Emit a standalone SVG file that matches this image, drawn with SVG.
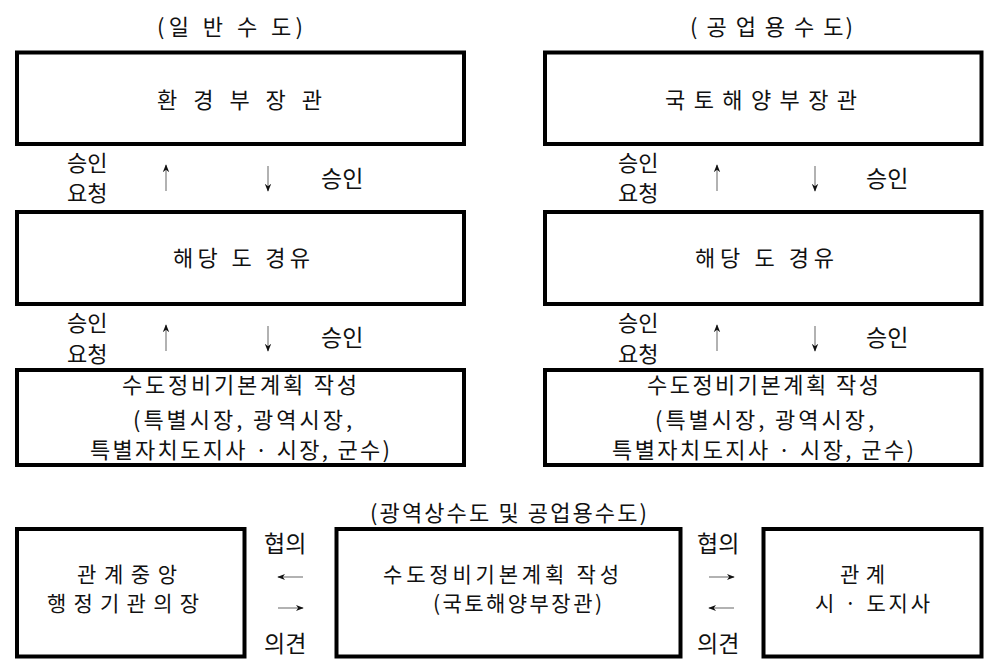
<svg xmlns="http://www.w3.org/2000/svg" width="997" height="670" viewBox="0 0 997 670">
<defs>
<style>
text{font-family:"Noto Sans CJK KR","Noto Sans",sans-serif;font-size:22px;fill:#111;}
.sm{font-size:21px;}
.lg{font-size:23px;}
.box{fill:#fff;stroke:#000;stroke-width:4;}
.ar{stroke:#999;stroke-width:1.5;fill:none;marker-end:url(#ah);}
</style>
<marker id="ah" viewBox="0 0 10 10" refX="9" refY="5" markerWidth="8" markerHeight="8" markerUnits="userSpaceOnUse" orient="auto">
<path d="M0,1 L10,5 L0,9 L3,5 Z" fill="#111"/>
</marker>
</defs>
<rect width="997" height="670" fill="#fff"/>

<g id="titles">
<text x="157" y="35" textLength="146" lengthAdjust="spacing">(일 반 수 도)</text>
<text x="690" y="35" textLength="163" lengthAdjust="spacing">( 공 업 용 수 도)</text>
<text x="370" y="521" textLength="277" lengthAdjust="spacing">(광역상수도 및 공업용수도)</text>
</g>

<g id="n-left-minister">
<rect class="box" x="17" y="52.5" width="447" height="91.5"/>
<text x="157" y="108" textLength="165" lengthAdjust="spacing">환 경 부 장 관</text>
</g>
<g id="n-left-province">
<rect class="box" x="17" y="212" width="447" height="92"/>
<text x="173" y="266" textLength="137" lengthAdjust="spacing">해당 도 경유</text>
</g>
<g id="n-left-plan">
<rect class="box" x="17" y="370" width="447" height="95"/>
<text><tspan x="122" y="393" textLength="235" lengthAdjust="spacing">수도정비기본계획 작성</tspan><tspan x="133" y="428" textLength="219" lengthAdjust="spacing">(특별시장, 광역시장,</tspan><tspan x="90" y="458" textLength="300" lengthAdjust="spacing">특별자치도지사 · 시장, 군수)</tspan></text>
</g>

<g id="n-right-minister">
<rect class="box" x="545" y="52.5" width="436.5" height="91.5"/>
<text x="665" y="108" textLength="192" lengthAdjust="spacing">국 토 해 양 부 장 관</text>
</g>
<g id="n-right-province">
<rect class="box" x="545" y="212" width="436.5" height="92"/>
<text x="695" y="266" textLength="139" lengthAdjust="spacing">해당 도 경유</text>
</g>
<g id="n-right-plan">
<rect class="box" x="545" y="370" width="436.5" height="95"/>
<text><tspan x="647" y="393" textLength="232" lengthAdjust="spacing">수도정비기본계획 작성</tspan><tspan x="655" y="428" textLength="219" lengthAdjust="spacing">(특별시장, 광역시장,</tspan><tspan x="612" y="458" textLength="302" lengthAdjust="spacing">특별자치도지사 · 시장, 군수)</tspan></text>
</g>

<g id="n-central">
<rect class="box" x="17" y="529" width="227.5" height="127.5"/>
<text class="sm"><tspan x="77" y="582" textLength="100" lengthAdjust="spacing">관계중앙</tspan><tspan x="47" y="611" textLength="152" lengthAdjust="spacing">행정기관의장</tspan></text>
</g>
<g id="n-wide-plan">
<rect class="box" x="336.5" y="529" width="344" height="127.5"/>
<text class="sm"><tspan x="383" y="582" textLength="236" lengthAdjust="spacing">수도정비기본계획 작성</tspan><tspan x="433" y="611" textLength="169" lengthAdjust="spacing">(국토해양부장관)</tspan></text>
</g>
<g id="n-city">
<rect class="box" x="763.5" y="529" width="218" height="127.5"/>
<text class="sm"><tspan x="840" y="582" textLength="45" lengthAdjust="spacing">관계</tspan><tspan x="815" y="611" textLength="115" lengthAdjust="spacing">시 · 도지사</tspan></text>
</g>

<g id="connectors">
<path class="ar" d="M166,191 L166,165"/>
<path class="ar" d="M268,166 L268,191"/>
<path class="ar" d="M717,191 L717,165"/>
<path class="ar" d="M815,166 L815,191"/>
<path class="ar" d="M166,351 L166,325"/>
<path class="ar" d="M268,326 L268,351"/>
<path class="ar" d="M717,351 L717,325"/>
<path class="ar" d="M815,326 L815,351"/>
<path class="ar" d="M303,577 L278,577"/>
<path class="ar" d="M278,608 L303,608"/>
<path class="ar" d="M709,577 L734,577"/>
<path class="ar" d="M734,608 L709,608"/>
</g>

<g id="labels">
<text><tspan x="67" y="171">승인</tspan><tspan x="67" y="201">요청</tspan></text>
<text class="lg" x="321" y="187">승인</text>
<text><tspan x="618" y="171">승인</tspan><tspan x="618" y="201">요청</tspan></text>
<text class="lg" x="866" y="187">승인</text>
<text><tspan x="67" y="331">승인</tspan><tspan x="67" y="362">요청</tspan></text>
<text class="lg" x="321" y="346">승인</text>
<text><tspan x="618" y="331">승인</tspan><tspan x="618" y="362">요청</tspan></text>
<text class="lg" x="866" y="346">승인</text>
<text class="lg" x="264" y="552">협의</text>
<text class="lg" x="264" y="652">의견</text>
<text class="lg" x="697" y="552">협의</text>
<text class="lg" x="697" y="652">의견</text>
</g>
</svg>
